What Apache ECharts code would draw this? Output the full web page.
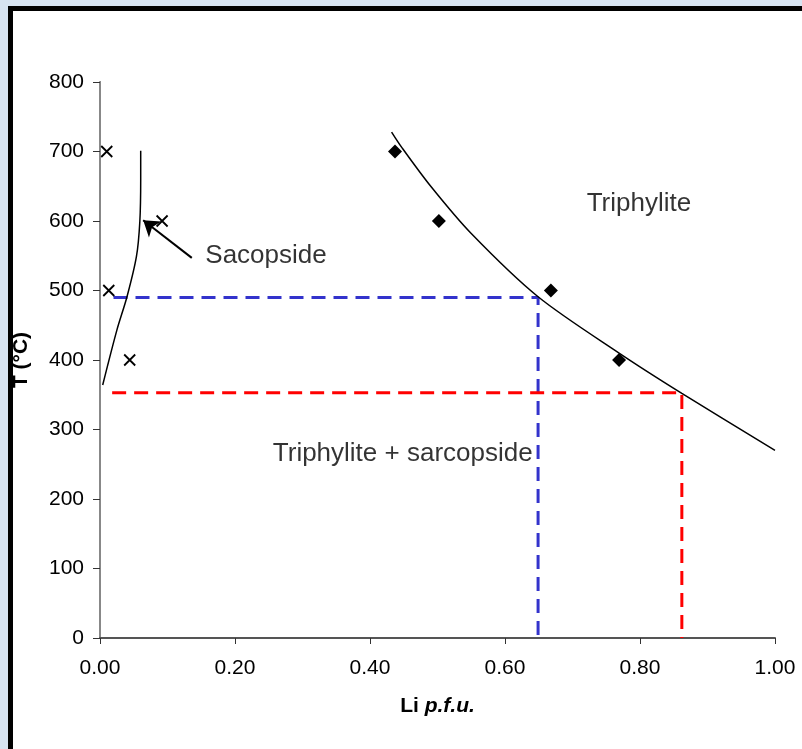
<!DOCTYPE html>
<html>
<head>
<meta charset="utf-8">
<script src="https://cdn.jsdelivr.net/npm/echarts@6/dist/echarts.min.js"></script>
<style>
  html, body { margin: 0; padding: 0; overflow: hidden; background: #d7e3f1; }
  #frame { position: absolute; left: 8px; top: 6px; width: 900px; height: 900px; border: 5px solid #000; background: #fff; }
  #chart { position: absolute; left: 0; top: 0; width: 802px; height: 749px; }
</style>
</head>
<body>
<div id="frame"></div>
<div id="chart"></div>
<script>
// sample points (Li p.f.u., T °C)
const sarcopsideSamples = [[0.010, 700], [0.092, 600], [0.013, 500], [0.044, 400]];
const triphyliteSamples = [[0.437, 700], [0.502, 600], [0.668, 500], [0.769, 400]];

// solvus curves
const sarcopsideCurve = [[0.004, 364], [0.025, 443], [0.040, 491], [0.054, 549], [0.059, 599], [0.0603, 659], [0.0603, 701]];
const triphyliteCurve = [[0.432, 728], [0.447, 706], [0.490, 650], [0.550, 582], [0.649, 491], [0.769, 410], [0.862, 352], [1.0, 270]];

// dashed read-off guides
const blueGuide = [[0.020, 490], [0.649, 490], [0.649, 0]];
const redGuide = [[0.018, 353], [0.862, 353], [0.862, 0]];

const arrowLine = [[0.136, 547], [0.064, 601]];

const notes = [
  ['Sacopside', 0.156, 550],
  ['Triphylite', 0.721, 624],
  ['Triphylite + sarcopside', 0.256, 265]
];

const font = 'Liberation Sans, Arial, sans-serif';

var chartDom = document.getElementById('chart');
var myChart = echarts.init(chartDom);

const option = {
  animation: false,
  grid: { left: 100, right: 27, top: 82, bottom: 111 },
  xAxis: [
    {
      type: 'value', min: 0, max: 1, interval: 0.2,
      name: '{b|Li} {bi|p.f.u.}',
      nameLocation: 'middle', nameGap: 58,
      nameTextStyle: {
        fontFamily: font, fontSize: 21, color: '#000',
        rich: {
          b: { fontFamily: font, fontSize: 21, fontWeight: 'bold', color: '#000' },
          bi: { fontFamily: font, fontSize: 21, fontWeight: 'bold', fontStyle: 'italic', color: '#000' }
        }
      },
      axisLine: { lineStyle: { color: '#000', width: 1 } },
      axisTick: { inside: false, length: 6, lineStyle: { color: '#333' } },
      axisLabel: { fontFamily: font, fontSize: 21, color: '#000', margin: 20, formatter: v => v.toFixed(2) },
      splitLine: { show: false }
    },
    {
      type: 'value', position: 'top', min: 0, max: 1,
      axisLine: { show: true, lineStyle: { color: '#555', width: 2 } },
      axisTick: { show: false }, axisLabel: { show: false }, splitLine: { show: false }
    }
  ],
  yAxis: [
    {
      type: 'value', min: 0, max: 800, interval: 100,
      name: 'T (°C)',
      nameLocation: 'middle', nameGap: 68, nameRotate: 90,
      nameTextStyle: { fontFamily: font, fontSize: 21, fontWeight: 'bold', color: '#000' },
      axisLine: { show: true, lineStyle: { color: '#000', width: 1 } },
      axisTick: { show: true, inside: false, length: 7, lineStyle: { color: '#333' } },
      axisLabel: { fontFamily: font, fontSize: 21, color: '#000', margin: 16 },
      splitLine: { show: false }
    },
    {
      type: 'value', position: 'right', min: 0, max: 800,
      axisLine: { show: true, lineStyle: { color: '#888', width: 2 } },
      axisTick: { show: false }, axisLabel: { show: false }, splitLine: { show: false }
    }
  ],
  series: [
    {
      name: 'blue guide', type: 'line', data: blueGuide, symbol: 'none',
      lineStyle: { color: '#3333cc', width: 3, type: [14, 8] }, z: 1
    },
    {
      name: 'red guide', type: 'line', data: redGuide, symbol: 'none',
      lineStyle: { color: '#ff0000', width: 3, type: [14, 8] }, z: 1
    },
    {
      name: 'sarcopside solvus', type: 'line', data: sarcopsideCurve, symbol: 'none', smooth: 0.3,
      lineStyle: { color: '#000', width: 1.5 }, z: 2
    },
    {
      name: 'triphylite solvus', type: 'line', data: triphyliteCurve, symbol: 'none', smooth: 0.3,
      lineStyle: { color: '#000', width: 1.5 }, z: 2
    },
    {
      name: 'sarcopside', type: 'scatter', data: sarcopsideSamples,
      symbol: 'path://M0,0L10,10M10,0L0,10', symbolSize: 11,
      itemStyle: { color: '#000', borderColor: '#000', borderWidth: 1.8, opacity: 1 }, z: 3
    },
    {
      name: 'triphylite', type: 'scatter', data: triphyliteSamples,
      symbol: 'diamond', symbolSize: 14,
      itemStyle: { color: '#000', opacity: 1 }, z: 3
    },
    {
      name: 'arrow', type: 'lines', coordinateSystem: 'cartesian2d',
      data: [{ coords: arrowLine }],
      symbol: ['none', 'arrow'], symbolSize: 15,
      lineStyle: { color: '#000', width: 2, opacity: 1 }, z: 3
    },
    {
      name: 'notes', type: 'scatter', symbolSize: 0, silent: true,
      data: notes.map(n => ({ name: n[0], value: [n[1], n[2]] })),
      label: {
        show: true, position: 'right', distance: 0, formatter: p => p.name,
        fontFamily: font, fontSize: 26, color: '#000'
      },
      z: 4
    }
  ]
};

myChart.setOption(option);
</script>
</body>
</html>
